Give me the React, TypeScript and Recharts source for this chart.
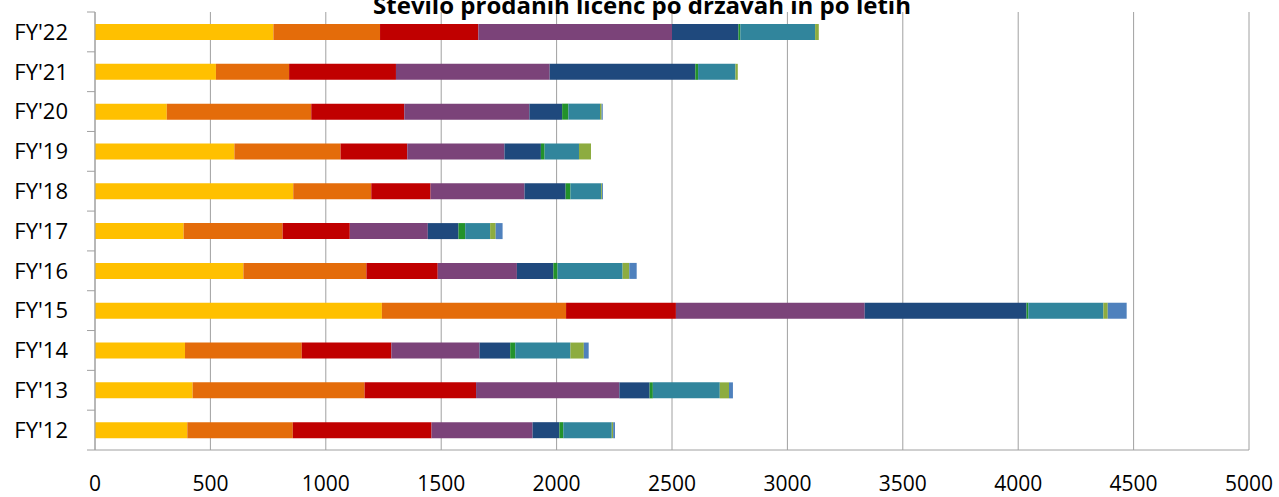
import { BarChart, Bar, XAxis, YAxis, CartesianGrid } from 'recharts'

const years = ["FY'22", "FY'21", "FY'20", "FY'19", "FY'18", "FY'17", "FY'16", "FY'15", "FY'14", "FY'13", "FY'12"]

// licences per country group, same order as years
const yellow = [773, 524, 311, 604, 859, 384, 643, 1243, 390, 423, 400]
const orange = [462, 317, 626, 460, 338, 429, 533, 798, 506, 745, 457]
const red = [426, 463, 403, 289, 257, 291, 309, 476, 388, 483, 601]
const purple = [839, 666, 542, 421, 407, 338, 343, 818, 382, 621, 438]
const navy = [288, 631, 142, 158, 178, 133, 158, 701, 133, 131, 116]
const green = [8, 12, 27, 16, 21, 29, 18, 8, 22, 14, 17]
const teal = [324, 162, 137, 149, 133, 108, 282, 325, 239, 290, 210]
const lime = [16, 10, 7, 52, 4, 24, 29, 19, 58, 40, 6]
const blue = [0, 0, 5, 0, 4, 30, 32, 82, 21, 17, 8]

const xTicks = [0, 500, 1000, 1500, 2000, 2500, 3000, 3500, 4000, 4500, 5000]

const series = [
  { key: 'yellow', values: yellow, color: '#FFC000' },
  { key: 'orange', values: orange, color: '#E46C0A' },
  { key: 'red', values: red, color: '#C00000' },
  { key: 'purple', values: purple, color: '#7B4379' },
  { key: 'navy', values: navy, color: '#1F497D' },
  { key: 'green', values: green, color: '#23922B' },
  { key: 'teal', values: teal, color: '#31859C' },
  { key: 'lime', values: lime, color: '#8DAC40' },
  { key: 'blue', values: blue, color: '#4F81BD' },
]

const data = years.map((year, i) => {
  const row: Record<string, string | number> = { year }
  series.forEach(s => { row[s.key] = s.values[i] })
  return row
})

const font = "'Open Sans', sans-serif"
const grey = '#a0a0a0'
const GAP = 27
const MARK = 8

// label plus the small mark that Excel puts between categories
function YearTick({ x, y, payload, index }: any) {
  const half = payload.offset ?? 0
  const ax = x + GAP
  return (
    <g>
      <text x={x} y={y} dy="0.355em" textAnchor="end" fill="#000" fontSize={22} fontFamily={font}>
        {payload.value}
      </text>
      <line x1={ax - MARK} x2={ax} y1={y - half} y2={y - half} stroke={grey} />
      {index === years.length - 1 && (
        <line x1={ax - MARK} x2={ax} y1={y + half} y2={y + half} stroke={grey} />
      )}
    </g>
  )
}

export default function App() {
  return (
    <div style={{ position: 'absolute', left: 0, top: 0, width: 1279, height: 497, background: '#fff' }}>
      <BarChart
        width={1279}
        height={497}
        data={data}
        layout="vertical"
        margin={{ top: 12, right: 30, left: 0, bottom: 7 }}
        barSize={16}
      >
        <CartesianGrid horizontal={false} stroke={grey} />
        <XAxis
          type="number"
          domain={[0, 5000]}
          ticks={xTicks}
          height={40}
          tickSize={0}
          tickMargin={26}
          axisLine={{ stroke: grey }}
          tick={{ fill: '#000', fontSize: 21, fontFamily: font }}
        />
        <YAxis
          type="category"
          dataKey="year"
          width={95}
          axisLine={{ stroke: grey }}
          tickLine={false}
          tickSize={0}
          tickMargin={GAP}
          tick={YearTick}
        />
        {series.map(s => (
          <Bar key={s.key} dataKey={s.key} stackId="a" fill={s.color} isAnimationActive={false} />
        ))}
      </BarChart>
      <svg width={1279} height={30} style={{ position: 'absolute', left: 0, top: 0, overflow: 'visible' }}>
        <text x={642} y={14} textAnchor="middle" fontFamily={font} fontWeight="bold" fontSize={24} fill="#000">
          Število prodanih licenc po državah in po letih
        </text>
      </svg>
    </div>
  )
}
